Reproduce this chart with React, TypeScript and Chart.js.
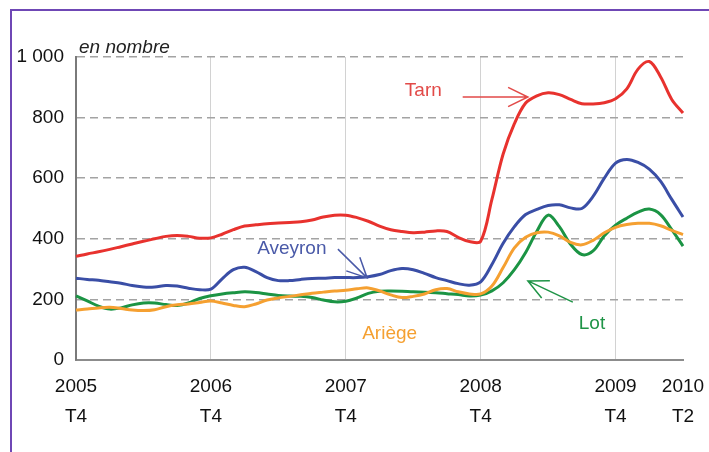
import { useEffect, useRef } from "react";
import { Chart, registerables } from "chart.js";

Chart.register(...registerables);

// Monthly points from 2005 T4 to 2010 T2
const months: string[] = [
  "2005-12", "2006-01", "2006-02", "2006-03", "2006-04", "2006-05", "2006-06", "2006-07", "2006-08", "2006-09", "2006-10", "2006-11",
  "2006-12", "2007-01", "2007-02", "2007-03", "2007-04", "2007-05", "2007-06", "2007-07", "2007-08", "2007-09", "2007-10", "2007-11",
  "2007-12", "2008-01", "2008-02", "2008-03", "2008-04", "2008-05", "2008-06", "2008-07", "2008-08", "2008-09", "2008-10", "2008-11",
  "2008-12", "2009-01", "2009-02", "2009-03", "2009-04", "2009-05", "2009-06", "2009-07", "2009-08", "2009-09", "2009-10", "2009-11",
  "2009-12", "2010-01", "2010-02", "2010-03", "2010-04", "2010-05", "2010-06",
];

const xTickIndex: number[] = [0, 12, 24, 36, 48, 54];
const xTickLabels: string[][] = [
  ["2005", "T4"], ["2006", "T4"], ["2007", "T4"], ["2008", "T4"], ["2009", "T4"], ["2010", "T2"],
];
const gridYears: number[] = [12, 24, 36, 48];

const tarn: number[] = [
  342, 350, 357, 365, 374, 383, 392, 400, 408, 411, 408, 402,
  403, 415, 430, 442, 446, 450, 452, 454, 456, 462, 472, 478,
  478, 470, 458, 442, 430, 424, 420, 422, 426, 424, 405, 391,
  392, 530, 680, 780, 848, 872, 882, 876, 860, 846, 845, 849,
  862, 895, 960, 985, 935, 860, 815,
];
const aveyron: number[] = [
  270, 266, 263, 258, 253, 246, 241, 241, 246, 244, 237, 232,
  234, 268, 298, 306, 292, 272, 262, 262, 266, 269, 270, 272,
  272, 272, 275, 282, 295, 302, 298, 286, 272, 262, 252, 247,
  258, 315, 385, 440, 480, 497, 510, 512, 502, 500, 540, 600,
  650, 662, 652, 630, 590, 530, 472,
];
const ariege: number[] = [
  165, 168, 172, 174, 170, 165, 163, 166, 176, 182, 185, 190,
  195, 188, 180, 176, 185, 198, 205, 210, 215, 220, 224, 228,
  230, 235, 238, 228, 215, 206, 210, 218, 232, 236, 225, 218,
  218, 244, 305, 370, 405, 420, 422, 410, 388, 380, 395, 420,
  438, 447, 451, 451, 443, 428, 414,
];
const lot: number[] = [
  212, 195, 178, 168, 172, 182, 188, 188, 183, 180, 188, 203,
  212, 218, 222, 225, 223, 218, 213, 211, 210, 206, 198, 192,
  194, 205, 220, 227, 228, 227, 225, 224, 222, 219, 216, 211,
  214, 228, 255, 298, 355, 425, 478, 440, 382, 348, 360, 410,
  445, 468, 488, 498, 480, 430, 376,
];

const RED = "#e8322e";
const BLUE = "#3a4ea6";
const ORANGE = "#f5a031";
const GREEN = "#1b9444";

const FONT = '"Liberation Sans", Arial, sans-serif';

type Note = {
  text: string;
  color: string;
  tx: number;
  ty: number;
  arrow?: [number, number, number, number];
};

// annotation anchors in data units (month index, value)
const notes: Note[] = [
  { text: "Tarn", color: "#e24a48", tx: 30.9, ty: 887, arrow: [34.4, 868, 40.2, 868] },
  { text: "Aveyron", color: "#4a5aa8", tx: 19.2, ty: 368, arrow: [23.3, 366, 25.9, 271] },
  { text: "Ariège", color: ORANGE, tx: 27.9, ty: 85 },
  { text: "Lot", color: "#1f9447", tx: 45.9, ty: 118, arrow: [44.2, 191, 40.2, 261] },
];

const annotationPlugin = {
  id: "notes",
  afterDatasetsDraw(chart: any) {
    const { ctx, scales, chartArea } = chart;
    const xs = scales.x;
    const ys = scales.y;
    ctx.save();
    // axis caption
    ctx.font = `italic 19px ${FONT}`;
    ctx.fillStyle = "#222";
    ctx.textAlign = "left";
    ctx.textBaseline = "alphabetic";
    ctx.fillText("en nombre", chartArea.left + 3, chartArea.top - 4);

    ctx.font = `19px ${FONT}`;
    ctx.textAlign = "center";
    ctx.textBaseline = "middle";
    for (const n of notes) {
      ctx.fillStyle = n.color;
      ctx.fillText(n.text, xs.getPixelForValue(n.tx), ys.getPixelForValue(n.ty));
      if (n.arrow) {
        const x1 = xs.getPixelForValue(n.arrow[0]);
        const y1 = ys.getPixelForValue(n.arrow[1]);
        const x2 = xs.getPixelForValue(n.arrow[2]);
        const y2 = ys.getPixelForValue(n.arrow[3]);
        ctx.strokeStyle = n.color;
        ctx.lineWidth = 1.5;
        ctx.beginPath();
        ctx.moveTo(x1, y1);
        ctx.lineTo(x2, y2);
        const ang = Math.atan2(y1 - y2, x1 - x2);
        const len = 22;
        const spread = (26 * Math.PI) / 180;
        ctx.moveTo(x2 + len * Math.cos(ang + spread), y2 + len * Math.sin(ang + spread));
        ctx.lineTo(x2, y2);
        ctx.lineTo(x2 + len * Math.cos(ang - spread), y2 + len * Math.sin(ang - spread));
        ctx.stroke();
      }
    }
    ctx.restore();
  },
};

export default function App() {
  const ref = useRef<HTMLCanvasElement | null>(null);

  useEffect(() => {
    if (!ref.current) return;
    const mk = (data: number[], color: string) => ({
      data,
      borderColor: color,
      backgroundColor: color,
      borderWidth: 3,
      pointRadius: 0,
      tension: 0.35,
      fill: false,
    });
    const chart = new Chart(ref.current, {
      type: "line",
      data: {
        labels: months,
        datasets: [
          { label: "Ariège", ...mk(ariege, ORANGE) },
          { label: "Lot", ...mk(lot, GREEN) },
          { label: "Aveyron", ...mk(aveyron, BLUE) },
          { label: "Tarn", ...mk(tarn, RED) },
        ],
      },
      options: {
        animation: false,
        responsive: false,
        maintainAspectRatio: false,
        layout: { padding: { top: 57, right: 26, bottom: 0, left: 0 } },
        plugins: {
          legend: { display: false },
          tooltip: { enabled: false },
        },
        scales: {
          x: {
            type: "category",
            offset: false,
            border: { display: true, color: "#8c8c8c", width: 2 },
            grid: {
              drawTicks: true,
              tickLength: 12,
              tickColor: "rgba(0,0,0,0)",
              color: (c: any) => (gridYears.includes(c.index) ? "#d2d2d2" : "rgba(0,0,0,0)"),
              lineWidth: 1,
            },
            ticks: {
              autoSkip: false,
              maxRotation: 0,
              padding: 0,
              color: "#111",
              font: { family: FONT, size: 19, lineHeight: 1.58 },
              callback: (_v: any, i: number) => {
                const k = xTickIndex.indexOf(i);
                return k >= 0 ? xTickLabels[k] : "";
              },
            },
            afterFit: (s: any) => {
              s.height = 92;
            },
          },
          y: {
            min: 0,
            max: 1000,
            border: { display: true, color: "#7a7a7a", width: 2, dash: [8, 5] },
            grid: {
              drawTicks: false,
              color: (c: any) => (c.tick && c.tick.value === 0 ? "rgba(0,0,0,0)" : "#a3a3a3"),
              lineWidth: 1.5,
            },
            ticks: {
              stepSize: 200,
              padding: 12,
              color: "#111",
              font: { family: FONT, size: 19 },
              callback: (v: any) => (v === 1000 ? "1 000" : String(v)),
            },
            afterFit: (s: any) => {
              s.width = 76;
            },
          },
        },
      },
      plugins: [annotationPlugin],
    } as any);
    return () => chart.destroy();
  }, []);

  return (
    <div style={{ position: "fixed", left: 0, top: 0, width: 709, height: 452, overflow: "hidden", background: "#fff" }}>
      <div
        style={{
          position: "absolute",
          left: 10,
          top: 9,
          width: 760,
          height: 500,
          border: "2px solid #6f47b5",
          boxSizing: "border-box",
        }}
      />
      <canvas ref={ref} width={709} height={452} style={{ position: "absolute", left: 0, top: 0 }} />
    </div>
  );
}
